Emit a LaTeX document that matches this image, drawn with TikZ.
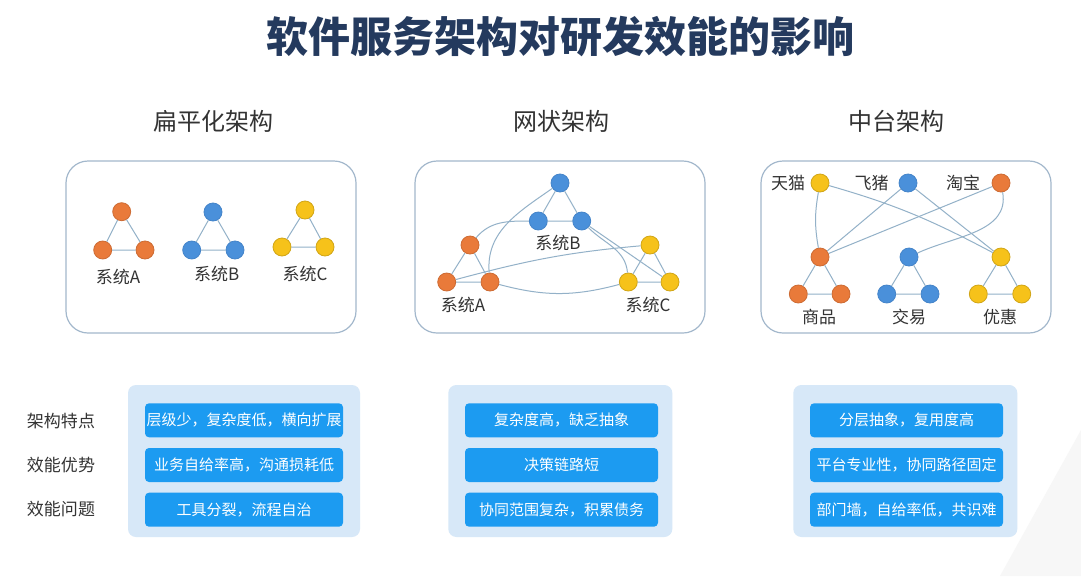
\documentclass[tikz,border=0pt]{standalone}
\usepackage{fontspec}
\setmainfont{Noto Sans CJK SC}
\definecolor{titleblue}{HTML}{243A5E}
\definecolor{textgray}{HTML}{333333}
\definecolor{framegray}{HTML}{A3B8CC}
\definecolor{linkgray}{HTML}{93B1C8}
\definecolor{dotorange}{HTML}{E97A3A}
\definecolor{dotblue}{HTML}{4A90DA}
\definecolor{dotyellow}{HTML}{F6C21A}
\definecolor{boxbg}{HTML}{D7E8F8}
\definecolor{boxblue}{HTML}{1C9BF1}

\begin{document}
\begin{tikzpicture}[x=1pt,y=1pt,
    dot/.style={circle,minimum size=18pt,inner sep=0pt,line width=0.8pt},
    og/.style={dot,fill=dotorange,draw=dotorange!88!black},
    bl/.style={dot,fill=dotblue,draw=dotblue!92!black},
    ye/.style={dot,fill=dotyellow,draw=dotyellow!85!black},
    tag/.style={inner sep=0pt,text=textgray,font=\fontsize{17}{20}\selectfont},
    head/.style={inner sep=0pt,text=textgray,font=\fontsize{24}{28}\selectfont},
    link/.style={draw=linkgray,line width=1pt},
    panel/.style={draw=framegray,line width=1.2pt,fill=white,rounded corners=22pt,
      minimum width=290pt,minimum height=172pt},
    sheet/.style={fill=boxbg,rounded corners=8pt,minimum width=224pt,
      minimum height=152pt,inner sep=0pt},
    cell/.style={fill=boxblue,rounded corners=4pt,minimum height=34pt,inner sep=0pt,
      text=white,font=\fontsize{15}{18}\selectfont}]

    \useasboundingbox[fill=white] (0,0) rectangle (1081,-576);
    \fill[gray!6] (1000,-576) -- (1081,-430) -- (1081,-576) -- cycle;

    % Title and column heads
    \node[text=titleblue,font=\fontsize{42}{48}\selectfont\bfseries] (title) at (560,-37) {软件服务架构对研发效能的影响};
    \node[head] (flatHead) at (213,-121) {扁平化架构};
    \node[head] (meshHead) at (561,-121) {网状架构};
    \node[head] (hubHead)  at (896,-121) {中台架构};

    % Frames
    \node[panel] (flatPanel) at (211,-247) {};
    \node[panel] (meshPanel) at (560,-247) {};
    \node[panel] (hubPanel)  at (906,-247) {};

    % Flat: three separate systems
    \node[og] (a1t) at (121.7,-211.7) {};
    \node[og] (a1l) at (102.7,-250) {};
    \node[og] (a1r) at (145,-250) {};
    \node[bl] (b1t) at (213,-212) {};
    \node[bl] (b1l) at (191.7,-250) {};
    \node[bl] (b1r) at (235,-250) {};
    \node[ye] (c1t) at (305,-210) {};
    \node[ye] (c1l) at (282,-247) {};
    \node[ye] (c1r) at (325,-247) {};
    \node[tag] (a1Text) at (118,-277) {系统A};
    \node[tag] (b1Text) at (216.7,-274) {系统B};
    \node[tag] (c1Text) at (305,-274) {系统C};

    % Mesh: systems wired to each other
    \node[bl] (b2t) at (560,-183) {};
    \node[bl] (b2l) at (538.3,-221) {};
    \node[bl] (b2r) at (581.7,-221) {};
    \node[og] (a2t) at (470,-245) {};
    \node[og] (a2l) at (446.7,-282) {};
    \node[og] (a2r) at (490,-282) {};
    \node[ye] (c2t) at (650,-245) {};
    \node[ye] (c2l) at (628.3,-282) {};
    \node[ye] (c2r) at (670,-282) {};
    \node[tag] (b2Text) at (558,-243) {系统B};
    \node[tag] (a2Text) at (463,-305) {系统A};
    \node[tag] (c2Text) at (648,-305) {系统C};

    % Hub: front ends over shared platforms
    \node[ye] (tm) at (820,-183) {};
    \node[bl] (fz) at (908,-183) {};
    \node[og] (tb) at (1001,-183) {};
    \node[tag] (tmText) at (788,-183) {天猫};
    \node[tag] (fzText) at (871.7,-183) {飞猪};
    \node[tag] (tbText) at (963,-183) {淘宝};
    \node[og] (spt) at (820,-257) {};
    \node[og] (spl) at (798.3,-294) {};
    \node[og] (spr) at (841,-294) {};
    \node[bl] (jyt) at (909,-257) {};
    \node[bl] (jyl) at (886.7,-294) {};
    \node[bl] (jyr) at (930,-294) {};
    \node[ye] (yht) at (1001,-257) {};
    \node[ye] (yhl) at (978.3,-294) {};
    \node[ye] (yhr) at (1021.7,-294) {};
    \node[tag] (spText) at (819,-317) {商品};
    \node[tag] (jyText) at (909,-317) {交易};
    \node[tag] (yhText) at (1000,-317) {优惠};

    % Triangle edges
    \foreach \s in {a1,b1,c1,a2,b2,c2,sp,jy,yh} {
      \draw[link] (\s t) -- (\s l) -- (\s r) -- (\s t);
    }

    % Mesh cross links
    \draw[link] (a2t) to[out=50,in=180] (b2l);
    \draw[link] (a2r) to[out=95,in=215] (b2t);
    \draw[link] (a2l) to[out=15,in=185] (c2t);
    \draw[link] (a2r) to[out=-15,in=195] (c2l);
    \draw[link] (b2r) to[out=-45,in=95] (c2l);
    \draw[link] (b2r) -- (c2r);

    % Hub links
    \draw[link] (tm) to[out=260,in=100] (spt);
    \draw[link] (tm) to[out=-16,in=152] (yht);
    \foreach \u/\v in {fz/spt,fz/yht,tb/spt} {
      \draw[link] (\u) -- (\v);
    }
    \draw[link] (tb) to[out=-80,in=25] (jyt);

    % Row heads
    \node[tag] (rowOne)   at (61,-421) {架构特点};
    \node[tag] (rowTwo)   at (61,-465) {效能优势};
    \node[tag] (rowThree) at (61,-509) {效能问题};

    % Trait boxes
    \node[sheet,minimum width=232pt] (flatSheet) at (244,-461) {};
    \node[sheet] (meshSheet) at (560.3,-461) {};
    \node[sheet] (hubSheet)  at (905.3,-461) {};

    \node[cell,minimum width=198pt] (f1) at (244,-420.3) {层级少，复杂度低，横向扩展};
    \node[cell,minimum width=198pt] (f2) at (244,-465)   {业务自给率高，沟通损耗低};
    \node[cell,minimum width=198pt] (f3) at (244,-509.7) {工具分裂，流程自治};
    \node[cell,minimum width=193pt] (m1) at (561.5,-420.3) {复杂度高，缺乏抽象};
    \node[cell,minimum width=193pt] (m2) at (561.5,-465)   {决策链路短};
    \node[cell,minimum width=193pt] (m3) at (561.5,-509.7) {协同范围复杂，积累债务};
    \node[cell,minimum width=193pt] (h1) at (906.5,-420.3) {分层抽象，复用度高};
    \node[cell,minimum width=193pt] (h2) at (906.5,-465)   {平台专业性，协同路径固定};
    \node[cell,minimum width=193pt] (h3) at (906.5,-509.7) {部门墙，自给率低，共识难};

  \end{tikzpicture}
\end{document}
